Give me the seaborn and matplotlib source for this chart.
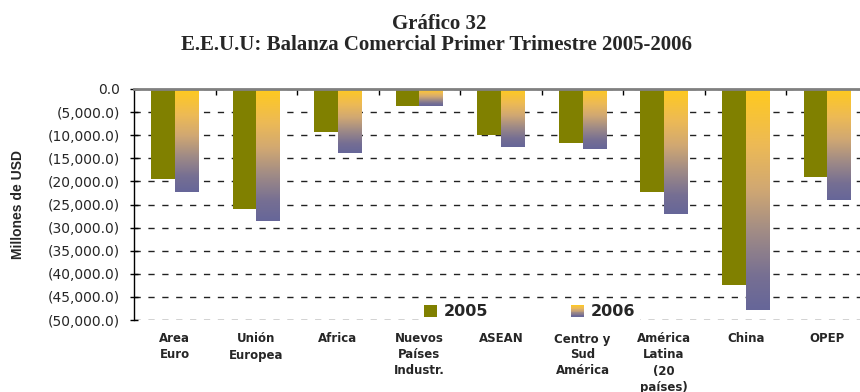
import numpy as np
import pandas as pd
import matplotlib
matplotlib.use("Agg")
import matplotlib.pyplot as plt
import seaborn as sns
from matplotlib.colors import LinearSegmentedColormap
from matplotlib.patches import Rectangle
from matplotlib.legend_handler import HandlerBase
from matplotlib.ticker import FuncFormatter, MultipleLocator

# Saldo comercial de EE.UU. por socio, primer trimestre (millones de USD)
regiones = ["Area\nEuro", "Unión\nEuropea", "Africa", "Nuevos\nPaíses\nIndustr.",
            "ASEAN", "Centro y\nSud\nAmérica", "América\nLatina\n(20\npaíses)",
            "China", "OPEP"]
saldo_2005 = [-19500, -25900, -9400, -3600, -9900, -11600, -22200, -42400, -19000]
saldo_2006 = [-22200, -28500, -13900, -3600, -12500, -13000, -27000, -47800, -24000]
anios = ["2005", "2006"]

df = pd.DataFrame({
    "region": regiones * 2,
    "saldo": saldo_2005 + saldo_2006,
    "anio": [anios[0]] * len(regiones) + [anios[1]] * len(regiones),
})

OLIVA = "#808000"
degradado = LinearSegmentedColormap.from_list(
    "oro_lavanda",
    [(0.0, "#FFCA1E"), (0.25, "#EDBA55"), (0.45, "#D1A872"),
     (0.65, "#A08B86"), (0.85, "#766F93"), (1.0, "#666699")])

sns.set_style("white")
fig = plt.figure(figsize=(8.6, 3.92), dpi=100)
ax = fig.add_axes([134 / 860, 1 - 320 / 392, 734 / 860, 231 / 392])

sns.barplot(data=df, x="region", y="saldo", hue="anio",
            palette={"2005": OLIVA, "2006": "#FFCA1E"},
            width=0.58, saturation=1, linewidth=0, legend=False, ax=ax)

# 2006 bars: vertical gradient from gold (top) to lavender (bottom)
grad = np.linspace(0, 1, 256).reshape(-1, 1)
for barra in ax.containers[1]:
    x0 = barra.get_x()
    w = barra.get_width()
    h = barra.get_height()
    y_top = barra.get_y()
    y_bot = y_top + h
    im = ax.imshow(grad, cmap=degradado, origin="upper", aspect="auto",
                   extent=(x0, x0 + w, min(y_top, y_bot), max(y_top, y_bot)),
                   zorder=barra.get_zorder(), interpolation="bilinear")
    im.set_clip_path(barra)
    barra.set_facecolor("none")

ax.set_xlim(-0.5, len(regiones) - 0.5)
ax.set_ylim(-50000, 0)

# Y axis
ax.yaxis.set_major_locator(MultipleLocator(5000))
ax.yaxis.set_major_formatter(FuncFormatter(
    lambda v, _: "0.0" if v == 0 else f"({abs(v):,.1f})"))
ax.tick_params(axis="y", which="major", direction="inout", length=6, width=1,
               color="black", pad=7, labelsize=10, left=True)
for t in ax.get_yticklabels():
    t.set_fontfamily("DejaVu Sans")

ax.yaxis.grid(True, linestyle=(0, (4.5, 5.5)), color="#222222", linewidth=1.0)
ax.set_axisbelow(True)

ax.set_ylabel("Millones de USD", fontfamily="Liberation Sans",
              fontweight="bold", fontsize=10)
ax.yaxis.set_label_coords(-0.148, 0.5)

# X axis: category labels below, separators on the zero line
ax.set_xlabel("")
ax.tick_params(axis="x", which="major", length=0, pad=9, labelsize=8.5)
for t in ax.get_xticklabels():
    t.set_fontfamily("DejaVu Sans")
    t.set_fontweight("bold")
    t.set_linespacing(1.3)
ax.set_xticks(np.arange(0.5, len(regiones) - 1, 1.0), minor=True)
ax.tick_params(axis="x", which="minor", bottom=False, top=True,
               direction="in", length=4, width=1, color="black")

for lado in ("right", "bottom"):
    ax.spines[lado].set_visible(False)
ax.spines["left"].set_color("black")
ax.spines["left"].set_linewidth(1.0)
ax.spines["top"].set_color("#808080")
ax.spines["top"].set_linewidth(2.0)
ax.spines["top"].set_zorder(5)


class ManejadorDegradado(HandlerBase):
    def create_artists(self, legend, orig_handle, xdescent, ydescent,
                       width, height, fontsize, trans):
        n = 16
        piezas = []
        for i in range(n):
            y = -ydescent + height * (1 - (i + 1) / n)
            piezas.append(Rectangle((-xdescent, y), width, height / n,
                                    facecolor=degradado((i + 0.5) / n),
                                    edgecolor="none", transform=trans))
        return piezas


h2005 = Rectangle((0, 0), 1, 1, facecolor=OLIVA, edgecolor="none")
h2006 = Rectangle((0, 0), 1, 1, facecolor="#FFCA1E", edgecolor="none")
leg = ax.legend([h2005, h2006], anios, loc="center",
                bbox_to_anchor=(0.539, 0.035), ncol=2,
                handler_map={h2006: ManejadorDegradado()},
                prop={"family": "DejaVu Sans", "weight": "bold", "size": 11.5},
                handlelength=0.8, handleheight=0.75, handletextpad=0.4,
                columnspacing=5.2, borderpad=0.3, frameon=True,
                fancybox=False, framealpha=1, facecolor="white",
                edgecolor="none")
leg.set_zorder(6)

# Title
fig.text(439 / 860, 1 - 29 / 392, "Gráfico 32", ha="center", va="baseline",
         fontfamily="Liberation Serif", fontweight="bold", fontsize=15)
fig.text(436 / 860, 1 - 50 / 392,
         "E.E.U.U: Balanza Comercial Primer Trimestre 2005-2006",
         ha="center", va="baseline", fontfamily="Liberation Serif",
         fontweight="bold", fontsize=15)

fig.savefig("out.png", dpi=100)
